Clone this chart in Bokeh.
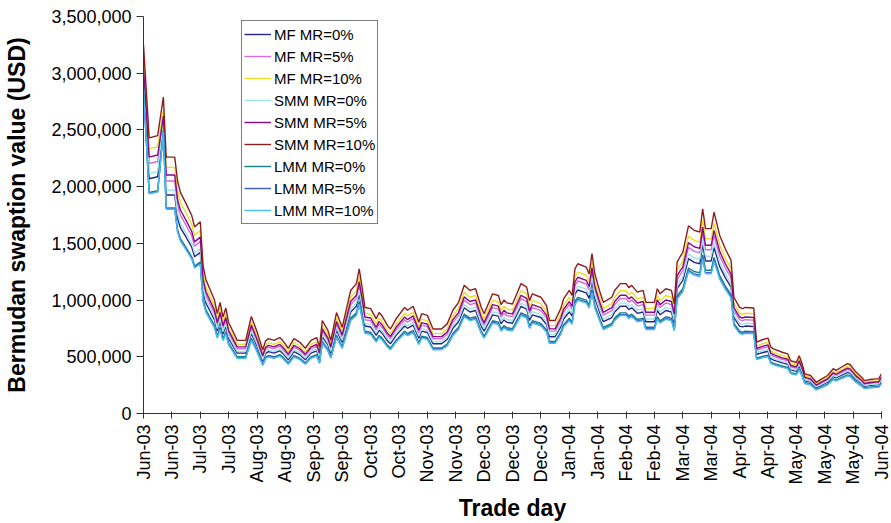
import math
from bokeh.plotting import figure
from bokeh.models import Range1d, FixedTicker, Legend, LegendItem
from bokeh.embed import file_html
from bokeh.resources import INLINE

# Trade-day index of each vertex
days = [0, 2, 5, 7, 8, 11, 12, 13, 15, 17,
        18, 20, 21, 22, 25, 26, 27, 28, 29, 30,
        31, 33, 36, 38, 40, 42, 43, 44, 46, 48,
        49, 51, 53, 55, 57, 59, 61, 62, 63, 65,
        66, 68, 70, 73, 75, 76, 77, 78, 80, 82,
        83, 84, 86, 87, 89, 92, 93, 95, 97, 98,
        100, 102, 105, 107, 109, 111, 113, 115, 117, 119,
        120, 123, 125, 126, 127, 128, 130, 132, 133, 135,
        136, 137, 140, 142, 143, 145, 147, 148, 150, 151,
        152, 153, 156, 157, 158, 159, 161, 162, 165, 166,
        168, 170, 171, 172, 174, 176, 177, 180, 181, 182,
        184, 186, 187, 188, 189, 190, 192, 194, 196, 197,
        198, 200, 201, 203, 205, 207, 208, 210, 211, 212,
        215, 216, 218, 220, 221, 222, 225, 227, 228, 230,
        231, 232, 233, 235, 237, 239, 241, 243, 244, 246,
        248, 249, 251, 253, 254, 256, 258, 259, 260]

# Values in thousands of USD
smm_mr10 = [3250, 2430, 2450, 2790, 2260, 2260, 2050, 1950, 1850, 1745,
            1645, 1690, 1300, 1180, 1000, 880, 980, 850, 930, 800,
            750, 645, 645, 855, 720, 560, 640, 660, 645, 670,
            645, 575, 660, 630, 575, 645, 670, 585, 820, 730,
            645, 890, 760, 1085, 1145, 1275, 1115, 935, 925, 835,
            890, 860, 775, 745, 835, 935, 910, 945, 805, 880,
            865, 745, 745, 790, 910, 980, 1130, 1085, 1100, 935,
            880, 1055, 1040, 960, 1000, 975, 965, 1085, 1145, 1115,
            995, 1055, 1025, 950, 820, 820, 925, 1010, 1085, 1040,
            1275, 1320, 1290, 1230, 1410, 1230, 1055, 980, 1025, 1085,
            1145, 1145, 1110, 1130, 1070, 1085, 980, 980, 1100, 1055,
            1100, 1085, 965, 1335, 1380, 1420, 1655, 1615, 1600, 1805,
            1630, 1630, 1775, 1570, 1450, 1350, 1025, 935, 925, 935,
            930, 630, 650, 665, 585, 570, 540, 525, 465, 450,
            510, 440, 350, 335, 275, 305, 335, 395, 380, 410,
            440, 430, 365, 320, 290, 300, 305, 305, 350]

mf_mr10 = [3110, 2333, 2352, 2670, 2170, 2170, 1958, 1862, 1767, 1666,
           1571, 1614, 1229, 1115, 945, 832, 926, 803, 879, 756,
           709, 610, 610, 808, 680, 529, 605, 624, 610, 633,
           610, 543, 624, 595, 543, 610, 633, 553, 775, 690,
           610, 841, 718, 1025, 1082, 1205, 1054, 884, 874, 789,
           841, 813, 732, 704, 789, 884, 860, 893, 761, 832,
           817, 704, 704, 747, 860, 926, 1068, 1025, 1040, 884,
           832, 997, 983, 907, 945, 921, 912, 1025, 1082, 1054,
           940, 997, 969, 898, 775, 775, 874, 954, 1025, 983,
           1205, 1247, 1219, 1162, 1332, 1162, 997, 926, 969, 1025,
           1082, 1082, 1049, 1068, 1011, 1025, 926, 926, 1040, 997,
           1040, 1025, 912, 1262, 1304, 1342, 1564, 1526, 1512, 1706,
           1540, 1540, 1677, 1484, 1370, 1276, 969, 884, 874, 884,
           879, 595, 614, 628, 553, 539, 510, 496, 439, 425,
           482, 416, 331, 317, 260, 288, 317, 373, 359, 387,
           416, 406, 345, 302, 274, 284, 288, 288, 331]

smm_mr5 = [3050, 2260, 2279, 2623, 2102, 2102, 1886, 1794, 1702, 1605,
           1513, 1555, 1183, 1074, 910, 801, 892, 774, 846, 728,
           683, 587, 587, 778, 655, 510, 582, 601, 587, 610,
           587, 523, 601, 573, 523, 587, 610, 532, 746, 664,
           587, 810, 692, 987, 1042, 1160, 1015, 851, 842, 760,
           810, 783, 705, 678, 760, 851, 828, 860, 733, 801,
           787, 678, 678, 719, 828, 892, 1028, 987, 1001, 851,
           801, 960, 946, 874, 910, 887, 878, 987, 1042, 1015,
           905, 960, 933, 865, 746, 746, 842, 919, 987, 946,
           1160, 1201, 1174, 1119, 1283, 1119, 960, 892, 933, 987,
           1042, 1042, 1010, 1028, 974, 987, 892, 892, 1001, 960,
           1001, 987, 878, 1215, 1256, 1292, 1506, 1470, 1456, 1643,
           1483, 1483, 1615, 1429, 1320, 1229, 933, 851, 842, 851,
           846, 573, 592, 605, 532, 519, 491, 478, 423, 410,
           464, 400, 319, 305, 250, 278, 305, 359, 346, 373,
           400, 391, 332, 291, 264, 273, 278, 278, 319]

mf_mr5 = [3000, 2204, 2222, 2595, 2050, 2050, 1839, 1749, 1659, 1565,
          1476, 1516, 1151, 1044, 885, 779, 867, 752, 823, 708,
          664, 571, 571, 757, 637, 496, 566, 584, 571, 593,
          571, 509, 584, 558, 509, 571, 593, 518, 726, 646,
          571, 788, 673, 960, 1013, 1128, 987, 827, 819, 739,
          788, 761, 686, 659, 739, 827, 805, 836, 712, 779,
          766, 659, 659, 699, 805, 867, 1000, 960, 974, 827,
          779, 934, 920, 850, 885, 863, 854, 960, 1013, 987,
          881, 934, 907, 841, 726, 726, 819, 894, 960, 920,
          1128, 1168, 1142, 1089, 1248, 1089, 934, 867, 907, 960,
          1013, 1013, 982, 1000, 947, 960, 867, 867, 974, 934,
          974, 960, 854, 1181, 1221, 1257, 1465, 1429, 1416, 1597,
          1443, 1443, 1571, 1389, 1283, 1195, 907, 827, 819, 827,
          823, 558, 575, 589, 518, 504, 478, 465, 412, 398,
          451, 389, 310, 296, 243, 270, 296, 350, 336, 363,
          389, 381, 323, 283, 257, 266, 270, 270, 310]

smm_mr0 = [2950, 2117, 2134, 2553, 1968, 1968, 1763, 1677, 1591, 1501,
           1415, 1453, 1105, 1003, 850, 748, 833, 723, 791, 680,
           638, 548, 548, 727, 612, 476, 544, 561, 548, 570,
           548, 489, 561, 536, 489, 548, 570, 497, 697, 621,
           548, 757, 646, 922, 973, 1084, 948, 795, 786, 710,
           757, 731, 659, 633, 710, 795, 774, 803, 684, 748,
           735, 633, 633, 672, 774, 833, 961, 922, 935, 795,
           748, 897, 884, 816, 850, 829, 820, 922, 973, 948,
           846, 897, 871, 808, 697, 697, 786, 859, 922, 884,
           1084, 1122, 1097, 1046, 1199, 1046, 897, 833, 871, 922,
           973, 973, 944, 961, 910, 922, 833, 833, 935, 897,
           935, 922, 820, 1135, 1173, 1207, 1407, 1373, 1360, 1534,
           1386, 1386, 1509, 1335, 1233, 1148, 871, 795, 786, 795,
           791, 536, 553, 565, 497, 485, 459, 446, 395, 383,
           434, 374, 298, 285, 234, 259, 285, 336, 323, 349,
           374, 366, 310, 272, 247, 255, 259, 259, 298]

mf_mr0 = [2900, 2070, 2087, 2525, 1926, 1926, 1722, 1638, 1554, 1466,
          1382, 1420, 1073, 974, 825, 726, 809, 701, 767, 660,
          619, 532, 532, 705, 594, 462, 528, 545, 532, 553,
          532, 474, 545, 520, 474, 532, 553, 483, 677, 602,
          532, 734, 627, 895, 945, 1052, 920, 771, 763, 689,
          734, 710, 639, 615, 689, 771, 751, 780, 664, 726,
          714, 615, 615, 652, 751, 809, 932, 895, 908, 771,
          726, 870, 858, 792, 825, 804, 796, 895, 945, 920,
          821, 870, 846, 784, 677, 677, 763, 833, 895, 858,
          1052, 1089, 1064, 1015, 1163, 1015, 870, 809, 846, 895,
          945, 945, 916, 932, 883, 895, 809, 809, 908, 870,
          908, 895, 796, 1101, 1139, 1172, 1365, 1332, 1320, 1489,
          1345, 1345, 1464, 1295, 1196, 1114, 846, 771, 763, 771,
          767, 520, 536, 549, 483, 470, 446, 433, 384, 371,
          421, 363, 289, 276, 227, 252, 276, 326, 314, 338,
          363, 355, 301, 264, 239, 248, 252, 252, 289]

lmm_mr0 = [2870, 1949, 1965, 2497, 1813, 1813, 1620, 1541, 1462, 1379,
           1300, 1335, 1008, 915, 775, 682, 760, 659, 721, 620,
           581, 500, 500, 663, 558, 434, 496, 512, 500, 519,
           500, 446, 512, 488, 446, 500, 519, 453, 636, 566,
           500, 690, 589, 841, 887, 988, 864, 725, 717, 647,
           690, 667, 601, 577, 647, 725, 705, 732, 624, 682,
           670, 577, 577, 612, 705, 760, 876, 841, 853, 725,
           682, 818, 806, 744, 775, 756, 748, 841, 887, 864,
           771, 818, 794, 736, 636, 636, 717, 783, 841, 806,
           988, 1023, 1000, 953, 1093, 953, 818, 760, 794, 841,
           887, 887, 860, 876, 829, 841, 760, 760, 853, 818,
           853, 841, 748, 1035, 1070, 1101, 1283, 1252, 1240, 1399,
           1263, 1263, 1376, 1217, 1124, 1046, 794, 725, 717, 725,
           721, 488, 504, 515, 453, 442, 419, 407, 360, 349,
           395, 341, 271, 260, 213, 236, 260, 306, 295, 318,
           341, 333, 283, 248, 225, 233, 236, 236, 271]

lmm_mr5 = [2860, 1942, 1958, 2489, 1806, 1806, 1609, 1531, 1452, 1370,
           1291, 1327, 991, 899, 762, 671, 747, 648, 709, 610,
           572, 491, 491, 652, 549, 427, 488, 503, 491, 511,
           491, 438, 503, 480, 438, 491, 511, 446, 625, 556,
           491, 678, 579, 827, 872, 972, 850, 712, 705, 636,
           678, 655, 591, 568, 636, 712, 693, 720, 613, 671,
           659, 568, 568, 602, 693, 747, 861, 827, 838, 712,
           671, 804, 792, 732, 762, 743, 735, 827, 872, 850,
           758, 804, 781, 724, 625, 625, 705, 770, 827, 792,
           972, 1006, 983, 937, 1074, 937, 804, 747, 781, 827,
           872, 872, 846, 861, 815, 827, 747, 747, 838, 804,
           838, 827, 735, 1017, 1052, 1082, 1261, 1231, 1219, 1375,
           1242, 1242, 1353, 1196, 1105, 1029, 781, 712, 705, 712,
           709, 480, 495, 507, 446, 434, 411, 400, 354, 343,
           389, 335, 267, 255, 210, 232, 255, 301, 290, 312,
           335, 328, 278, 244, 221, 229, 232, 232, 267]

lmm_mr10 = [2850, 1937, 1953, 2483, 1801, 1801, 1599, 1521, 1443, 1361,
            1283, 1318, 982, 891, 755, 664, 740, 642, 702, 604,
            566, 487, 487, 646, 544, 423, 483, 498, 487, 506,
            487, 434, 498, 476, 434, 487, 506, 442, 619, 551,
            487, 672, 574, 819, 864, 963, 842, 706, 698, 630,
            672, 649, 585, 562, 630, 706, 687, 713, 608, 664,
            653, 562, 562, 596, 687, 740, 853, 819, 831, 706,
            664, 797, 785, 725, 755, 736, 729, 819, 864, 842,
            751, 797, 774, 717, 619, 619, 698, 763, 819, 785,
            963, 997, 974, 929, 1065, 929, 797, 740, 774, 819,
            864, 864, 838, 853, 808, 819, 740, 740, 831, 797,
            831, 819, 729, 1008, 1042, 1072, 1250, 1219, 1208, 1363,
            1231, 1231, 1340, 1185, 1095, 1019, 774, 706, 698, 706,
            702, 476, 491, 502, 442, 430, 408, 396, 351, 340,
            385, 332, 264, 253, 208, 230, 253, 298, 287, 310,
            332, 325, 276, 242, 219, 227, 230, 230, 264]

series_names = ["MF MR=0%", "MF MR=5%", "MF MR=10%",
                "SMM MR=0%", "SMM MR=5%", "SMM MR=10%",
                "LMM MR=0%", "LMM MR=5%", "LMM MR=10%"]
series_values = [mf_mr0, mf_mr5, mf_mr10,
                 smm_mr0, smm_mr5, smm_mr10,
                 lmm_mr0, lmm_mr5, lmm_mr10]
series_colors = ["#26268a", "#d76ad7", "#eedc28",
                 "#9fe3e3", "#850a85", "#8e1c1c",
                 "#157f7f", "#3a5ccc", "#45bdec"]

x_ticks = list(range(0, 261, 10))
x_tick_labels = ["Jun-03", "Jun-03", "Jul-03", "Jul-03", "Aug-03", "Aug-03",
                 "Sep-03", "Sep-03", "Oct-03", "Oct-03", "Nov-03", "Nov-03",
                 "Dec-03", "Dec-03", "Dec-03", "Jan-04", "Jan-04", "Feb-04",
                 "Feb-04", "Mar-04", "Mar-04", "Apr-04", "Apr-04", "May-04",
                 "May-04", "May-04", "Jun-04"]
y_ticks = [0, 500, 1000, 1500, 2000, 2500, 3000, 3500]
y_tick_labels = ["0", "500,000", "1,000,000", "1,500,000", "2,000,000",
                 "2,500,000", "3,000,000", "3,500,000"]

for s in series_values:
    if len(s) != len(days):
        raise ValueError("length mismatch %d vs %d" % (len(s), len(days)))

FONT = "Liberation Sans"

p = figure(width=891, height=523, output_backend="svg", toolbar_location=None,
           x_range=Range1d(0, 260), y_range=Range1d(0, 3500),
           min_border_left=143, min_border_right=10, min_border_top=16,
           min_border_bottom=110)
p.outline_line_color = None
p.xgrid.visible = False
p.ygrid.visible = False
p.background_fill_color = "white"
p.border_fill_color = "white"

items = []
for name, vals, col in zip(series_names, series_values, series_colors):
    r = p.line(days, vals, line_color=col, line_width=1.4)
    items.append(LegendItem(label=name, renderers=[r]))

legend = Legend(items=items, location=(98, 189))
legend.label_text_font = FONT
legend.label_text_font_size = "15px"
legend.label_text_color = "black"
legend.label_standoff = 3
legend.glyph_width = 27
legend.glyph_height = 22
legend.label_height = 22
legend.spacing = 0
legend.padding = 2
legend.margin = 0
legend.border_line_color = "black"
legend.border_line_width = 1
legend.background_fill_color = "white"
legend.background_fill_alpha = 1.0
p.add_layout(legend)

xa = p.xaxis[0]
xa.ticker = FixedTicker(ticks=x_ticks)
xa.major_label_overrides = dict(zip(x_ticks, x_tick_labels))
xa.major_label_orientation = math.pi / 2
xa.major_label_text_font = FONT
xa.major_label_text_font_size = "18px"
xa.major_label_text_color = "black"
xa.major_label_standoff = 6
xa.major_tick_out = 5
xa.major_tick_in = 2
xa.minor_tick_out = 0
xa.minor_tick_in = 0
xa.axis_line_color = "#333333"
xa.major_tick_line_color = "#333333"
xa.axis_label = "Trade day"
xa.axis_label_text_font = FONT
xa.axis_label_text_font_style = "bold"
xa.axis_label_text_font_size = "23px"
xa.axis_label_text_color = "black"
xa.axis_label_standoff = 7

ya = p.yaxis[0]
ya.ticker = FixedTicker(ticks=y_ticks)
ya.major_label_overrides = dict(zip(y_ticks, y_tick_labels))
ya.major_label_text_font = FONT
ya.major_label_text_font_size = "18px"
ya.major_label_text_color = "black"
ya.major_label_standoff = 5
ya.major_tick_out = 7
ya.major_tick_in = 0
ya.minor_tick_out = 0
ya.minor_tick_in = 0
ya.axis_line_color = "#333333"
ya.major_tick_line_color = "#333333"
ya.axis_label = "Bermudan swaption value (USD)"
ya.axis_label_text_font = FONT
ya.axis_label_text_font_style = "bold"
ya.axis_label_text_font_size = "23px"
ya.axis_label_text_color = "black"
ya.axis_label_standoff = 18

open("out.html", "w").write(file_html(p, INLINE))
